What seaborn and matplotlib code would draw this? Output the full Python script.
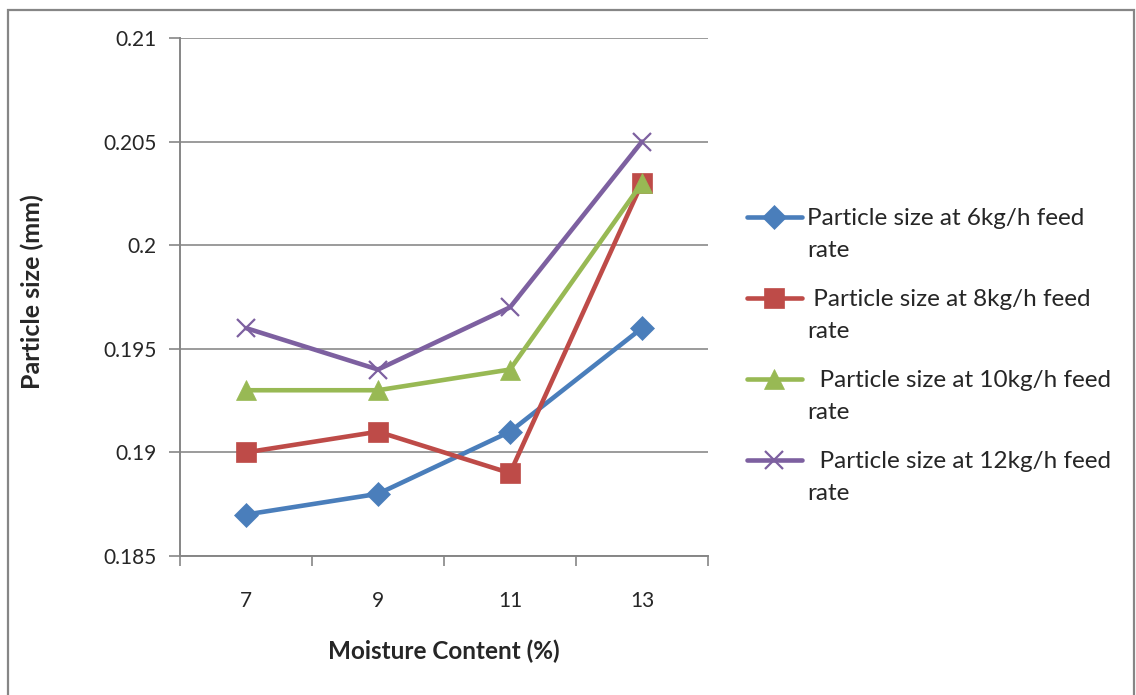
import matplotlib
matplotlib.use("Agg")
import matplotlib.pyplot as plt
import matplotlib.patches as mpatches
import seaborn as sns
import pandas as pd

# Data
moisture = ["7", "9", "11", "13"]
size_6kg = [0.187, 0.188, 0.191, 0.196]
size_8kg = [0.190, 0.191, 0.189, 0.203]
size_10kg = [0.193, 0.193, 0.194, 0.203]
size_12kg = [0.196, 0.194, 0.197, 0.205]
series_names = [
    "Particle size at 6kg/h feed",
    " Particle size at 8kg/h feed",
    "  Particle size at 10kg/h feed",
    "  Particle size at 12kg/h feed",
]
wrap_line = "rate"
y_ticks = [0.185, 0.19, 0.195, 0.2, 0.205, 0.21]
y_tick_labels = ["0.185", "0.19", "0.195", "0.2", "0.205", "0.21"]

colors = ["#4A7EBB", "#BE4B48", "#98B954", "#7D60A0"]
markers = ["D", "s", "^", "x"]
marker_sizes = [12, 14, 14, 13]

rows = []
for name, vals in zip(series_names, [size_6kg, size_8kg, size_10kg, size_12kg]):
    for i, v in enumerate(vals):
        rows.append({"pos": i, "size": v, "series": name})
df = pd.DataFrame(rows)

sns.set_style("white")
plt.rcParams["font.family"] = ["Lato", "DejaVu Sans"]

W, H = 1136, 695
fig = plt.figure(figsize=(W / 100, H / 100), dpi=100)
ax = fig.add_axes([180 / W, 1 - 556 / H, 528 / W, 518 / H])

for name, col, mk, ms in zip(series_names, colors, markers, marker_sizes):
    sub = df[df["series"] == name]
    sns.lineplot(data=sub, x="pos", y="size", ax=ax, color=col, linewidth=3.3,
                 marker=mk, markersize=ms, markeredgecolor=col,
                 markeredgewidth=1.6 if mk == "x" else 0.5, label=name,
                 estimator=None, sort=False)

ax.set_xlim(-0.5, 3.5)
ax.set_ylim(0.185, 0.21)
ax.set_yticks(y_ticks)
ax.set_yticklabels(y_tick_labels, fontsize=15)
ax.set_xticks(range(len(moisture)))
ax.set_xticklabels(moisture, fontsize=15)
ax.tick_params(axis="x", length=0, pad=25)
ax.tick_params(axis="y", length=8, width=1.2, color="#868686", pad=9, direction="out",
               left=True)
# category boundary ticks on the x axis
ax.set_xticks([-0.5, 0.5, 1.5, 2.5, 3.5], minor=True)
ax.tick_params(axis="x", which="minor", length=7, width=1.2, color="#868686",
               direction="out", bottom=True)

ax.grid(axis="y", color="#8A8A8A", linewidth=1.2)
ax.grid(axis="x", visible=False)
for side in ["top", "right"]:
    ax.spines[side].set_visible(False)
for side in ["left", "bottom"]:
    ax.spines[side].set_color("#868686")
    ax.spines[side].set_linewidth(1.4)

ax.set_xlabel("Moisture Content (%)", fontsize=17.5, fontweight="bold")
ax.xaxis.set_label_coords(0.5, (556 - 640) / 518)
ax.set_ylabel("Particle size (mm)", fontsize=18, fontweight="bold")
ax.yaxis.set_label_coords((44 - 180) / 528, 0.51)

leg = ax.legend(loc="upper left", bbox_to_anchor=(747 / W, 1 - 208 / H),
                bbox_transform=fig.transFigure, frameon=False,
                fontsize=17.5, handlelength=2.26, handletextpad=0.2,
                labelspacing=2.47, borderpad=0, borderaxespad=0)
for line in leg.get_lines():
    line.set_linewidth(3.3)

# second line of each legend label, set under the first
fig.canvas.draw()
for t in leg.get_texts():
    bb = t.get_window_extent()
    fig.text(bb.x0 / W, (bb.y0 - 32) / H, wrap_line, fontsize=17.5,
             ha="left", va="bottom")

fig.patches.append(mpatches.Rectangle((7.5 / W, -0.02), 1 - 10 / W, 1 - 10 / H + 0.02,
                                      transform=fig.transFigure, fill=False,
                                      edgecolor="#868686", linewidth=1.6))

fig.savefig("out.png", dpi=100)
